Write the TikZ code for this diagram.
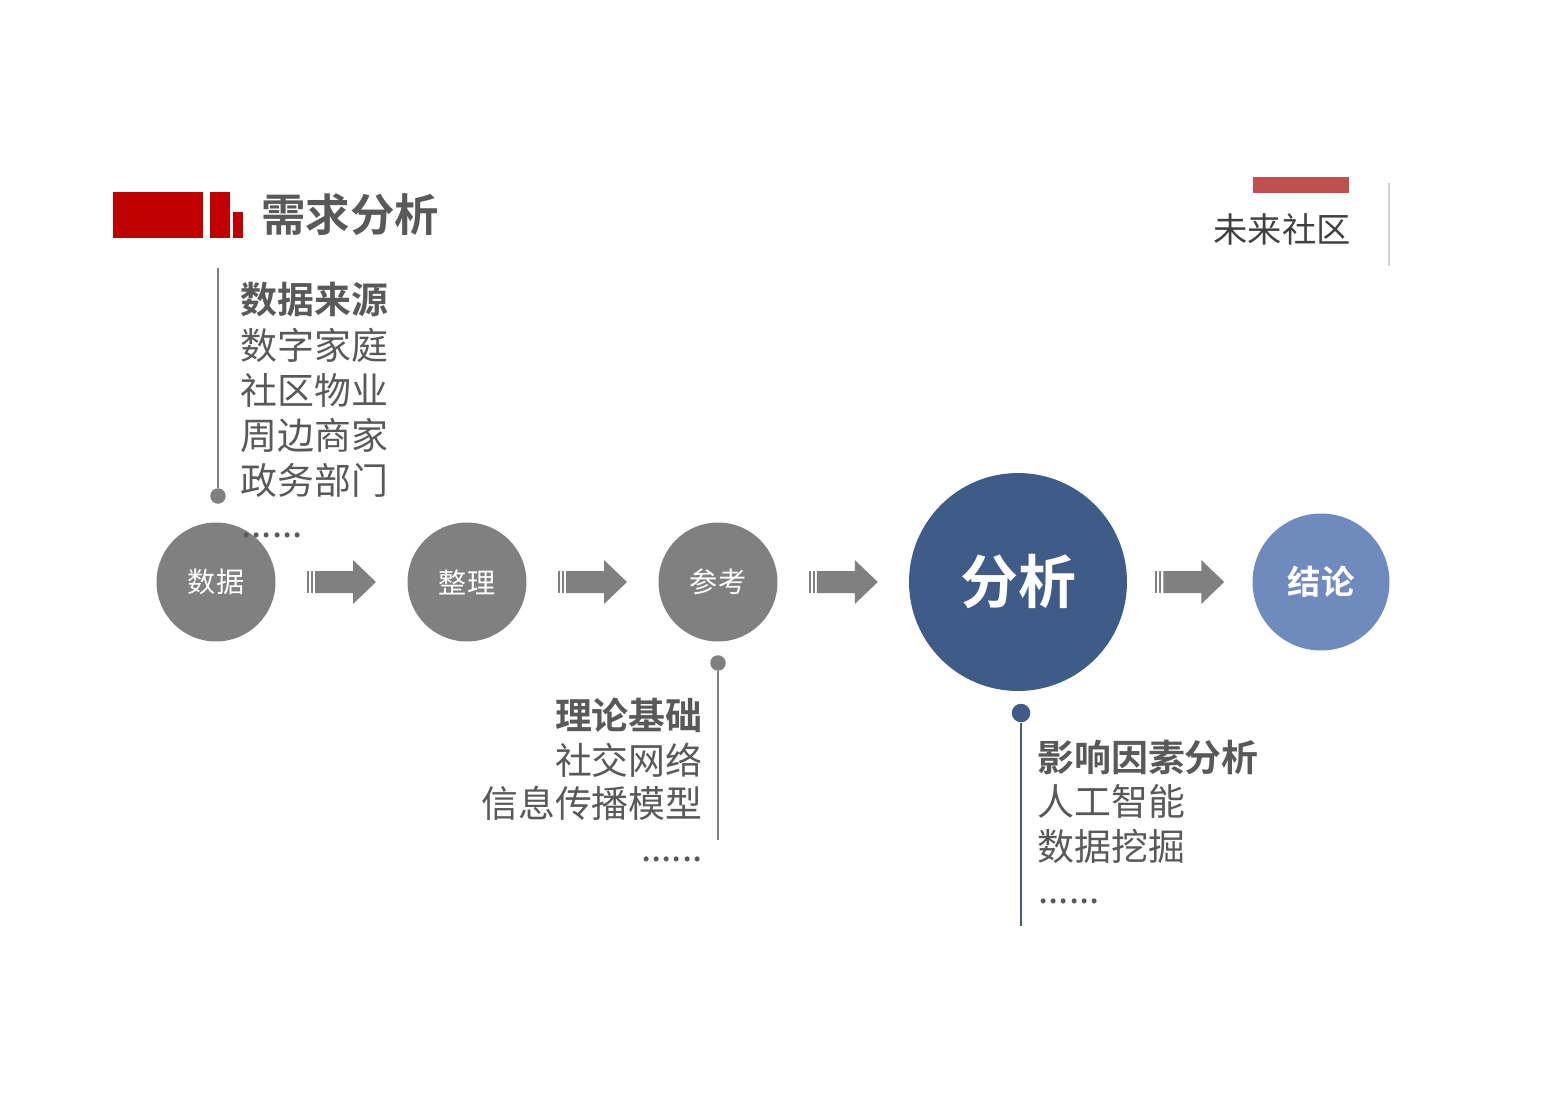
\documentclass[tikz,border=0pt]{standalone}
\usepackage{fontspec}
\setmainfont{Noto Sans CJK SC}[BoldFont={Noto Sans CJK SC Bold}]
\usetikzlibrary{calc}
\definecolor{txt}{HTML}{595959}
\definecolor{dtxt}{HTML}{404040}
\definecolor{grey}{HTML}{808080}
\definecolor{dblue}{HTML}{3F5B87}
\definecolor{lblue}{HTML}{6F8BBD}
\definecolor{hred}{HTML}{C00000}
\definecolor{sred}{HTML}{C0504D}
\tikzset{
  stage/.style={circle, draw=none, text=white, inner sep=0pt},
  note/.style={text=txt, inner sep=0pt, font=\fontsize{21}{25}\selectfont},
  notebold/.style={note, font=\fontsize{21}{25}\selectfont\bfseries},
  pin/.style={circle, fill=grey, inner sep=0pt, minimum size=0.31cm},
  pinline/.style={draw=grey, line width=0.8pt},
  fatarrow/.pic={
    \fill[grey] (-34.5,-11) rectangle (-32.5,11);
    \fill[grey] (-30.5,-11) rectangle (-28.5,11);
    \fill[grey] (-26.5,-11) -- (11.5,-11) -- (11.5,-22) -- (34.5,0) -- (11.5,22) -- (11.5,11) -- (-26.5,11) -- cycle;
  }
}
\begin{document}
\begin{tikzpicture}[x=0.02cm,y=-0.02cm]
\fill[white] (0,0) rectangle (1559,1102);
\useasboundingbox (0,0) rectangle (1559,1102);

% header
\fill[hred] (113,192) rectangle (203,238);
\fill[hred] (210,192) rectangle (230,238);
\fill[hred] (233,212) rectangle (243,238);
\node[anchor=west, text=txt, inner sep=0pt, font=\fontsize{25.3}{30}\selectfont\bfseries] (title) at (261,215) {需求分析};

% top right
\fill[sred] (1253,177) rectangle (1349,193);
\node[anchor=east, text=dtxt, inner sep=0pt, font=\fontsize{19.5}{24}\selectfont] (brand) at (1351,229) {未来社区};
\draw[draw=black!18, line width=0.8pt] (1389,183) -- (1389,266);

% stages
\node[stage, fill=grey, minimum size=2.38cm, font=\fontsize{16}{20}\selectfont] (s1) at (216,582) {数据};
\node[stage, fill=grey, minimum size=2.38cm, font=\fontsize{16}{20}\selectfont] (s2) at (467,582) {整理};
\node[stage, fill=grey, minimum size=2.38cm, font=\fontsize{16}{20}\selectfont] (s3) at (718,582) {参考};
\node[stage, fill=dblue, minimum size=4.36cm, font=\fontsize{33}{40}\selectfont\bfseries] (s4) at (1018,582) {分析};
\node[stage, fill=lblue, minimum size=2.74cm, font=\fontsize{19}{24}\selectfont\bfseries] (s5) at (1321,582) {结论};

\pic at ($(s1.east)!0.5!(s2.west)$) {fatarrow};
\pic at ($(s2.east)!0.5!(s3.west)$) {fatarrow};
\pic at ($(s3.east)!0.5!(s4.west)$) {fatarrow};
\pic at ($(s4.east)!0.5!(s5.west)$) {fatarrow};

% left note
\node[pin] (p1) at (218,496) {};
\coordinate (p1top) at (218,268);
\draw[pinline] (p1) -- (p1top);
\node[notebold, anchor=west] (n11) at (240,300) {数据来源};
\node[note, anchor=west] (n12) at (240,345) {数字家庭};
\node[note, anchor=west] (n13) at (240,390) {社区物业};
\node[note, anchor=west] (n14) at (240,435) {周边商家};
\node[note, anchor=west] (n15) at (240,480) {政务部门};
\node[note, anchor=base west] (n16) at (241,537) {......};

% middle note
\node[pin] (p2) at (718,663) {};
\coordinate (p2bot) at (718,840);
\draw[pinline] (p2) -- (p2bot);
\node[notebold, anchor=east] (n21) at (703,715) {理论基础};
\node[note, anchor=east] (n22) at (703,760) {社交网络};
\node[note, anchor=east] (n23) at (703,803) {信息传播模型};
\node[note, anchor=base east] (n24) at (703,861) {......};

% right note
\node[pin, fill=dblue, minimum size=0.37cm] (p3) at (1021,713) {};
\coordinate (p3bot) at (1021,926);
\draw[draw=dblue, line width=0.9pt] (p3) -- (p3bot);
\node[notebold, anchor=west] (n31) at (1037,757) {影响因素分析};
\node[note, anchor=west] (n32) at (1037,801) {人工智能};
\node[note, anchor=west] (n33) at (1037,846) {数据挖掘};
\node[note, anchor=base west] (n34) at (1038,903) {......};
\end{tikzpicture}
\end{document}
